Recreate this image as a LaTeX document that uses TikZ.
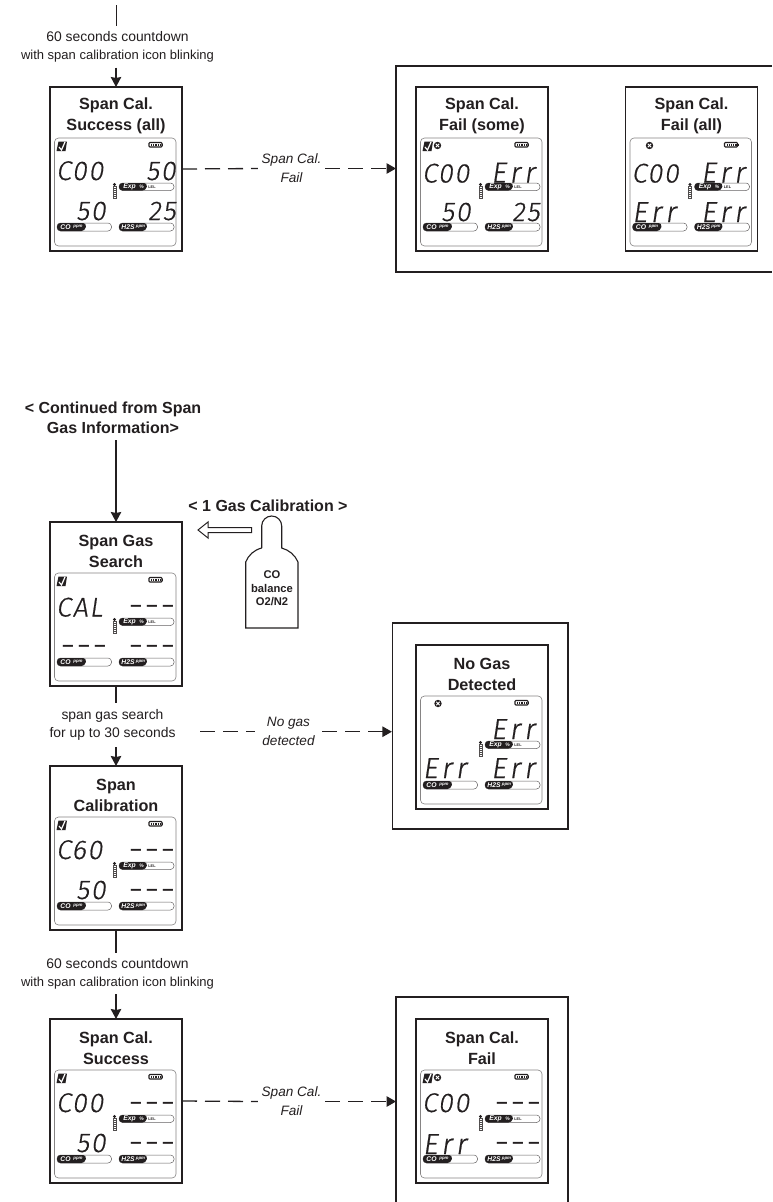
\documentclass[tikz,border=0pt]{standalone}
\usepackage{fontspec}
\usetikzlibrary{arrows.meta}
\setmainfont{Liberation Sans}
\newfontfamily\lcdfont[FakeSlant=0.15,FakeBold=0.6,LetterSpace=6]{Fira Sans Light}
\newfontfamily\errfont[FakeSlant=0.15,FakeBold=0.6,LetterSpace=13]{Fira Sans Light}
\newfontfamily\dashfont[FakeStretch=2.5,LetterSpace=17]{Liberation Sans}
\definecolor{ink}{HTML}{231F20}
\newcommand{\longnote}{\fontsize{13.9}{19}\selectfont 60 seconds countdown\hspace{11pt}\\\fontsize{13}{19}\selectfont with span calibration icon blinking}
\tikzset{
  x=1pt,y=-1pt,
  cardbox/.style={draw=ink,line width=1.3pt,fill=white,minimum width=132pt,minimum height=164pt,anchor=north west,inner sep=0pt,outer sep=0pt},
  titletext/.style={font=\fontsize{16.2}{21}\selectfont\bfseries,text=ink,align=center,inner sep=0pt},
  flow/.style={draw=ink,line width=1.3pt},
  arrowed/.style={flow,-{Stealth[length=10pt,width=10.5pt,inset=1pt]}},
  dashline/.style={draw=ink,line width=1.3pt,dash pattern=on 15pt off 8pt},
  dasharrow/.style={dashline,-{Triangle[length=9.5pt,width=10.5pt]}},
  note/.style={font=\fontsize{13.9}{18}\selectfont,text=ink,align=center,inner sep=0pt},
  failnote/.style={font=\fontsize{13.6}{19}\selectfont\itshape,text=ink,align=center,inner sep=0pt,minimum width=67pt},
  headnote/.style={font=\fontsize{16}{20}\selectfont\bfseries,text=ink,align=center,inner sep=0pt},
  frame/.style={draw=ink,line width=1.3pt},
  lcdtext/.style={font=\fontsize{27}{27}\selectfont\lcdfont,text=ink,inner sep=0pt},
  errtext/.style={font=\fontsize{29}{29}\selectfont\errfont,text=ink,inner sep=0pt},
  dashtext/.style={font=\fontsize{16}{16}\selectfont\dashfont\bfseries,text=ink,inner sep=0pt},
  pilltext/.style={font=\fontsize{6.8}{7}\selectfont\bfseries\itshape,text=white,inner sep=0pt},
  ppmtext/.style={font=\fontsize{4.4}{5}\selectfont\bfseries\itshape,text=white,inner sep=0pt},
  lel/.style={font=\fontsize{3.8}{4}\selectfont\bfseries,text=ink,inner sep=0pt},
}
\newcommand{\pill}[6]{% name x1 xblack x2 y1 y2
  \draw[ink!70,line width=.5pt,fill=white,rounded corners=3.5pt] (#2,#5) rectangle (#4,#6);
  \fill[ink,rounded corners=3.5pt] (#2,#5) -- (#3+1.5,#5) -- (#3,#6) -- (#2,#6) -- cycle;
}
\newcommand{\devbody}[2]{% name, title
  \node[cardbox] (#1) at (0,0) {};
  \node[titletext] (#1-title) at (66,29) {#2};
  \draw[ink!55,line width=.6pt,rounded corners=4pt] (4.5,51) rectangle (126,159);
  % battery
  \draw[ink,line width=1.1pt,rounded corners=.8pt] (99,55.5) rectangle (112,60);
  \fill[ink] (112,56.5) rectangle (113.2,59);
  \foreach \q in {101,103.2,105.4,107.6,109.8}{\fill[ink] (\q,56.5) rectangle (\q+1.2,59);}
  % thermometer
  \fill[ink!80] (62.5,99) rectangle (66.5,112);
  \fill[ink] (64.5,97.5) circle (1.6);
  \foreach \q in {100.5,102.5,...,111}{\draw[white,line width=.3pt] (63.5,\q) -- (65.5,\q);}
  % bars
  \pill{}{69}{96}{124}{96}{103.5}
  \node[pilltext] (#1-exp) at (79.5,99.7) {Exp};
  \node[pilltext,font=\fontsize{5}{5}\selectfont\bfseries\itshape] (#1-pct) at (91.5,100) {\%};
  \node[lel] (#1-lel) at (102,99.8) {LEL};
  \pill{}{7}{35}{61.5}{136}{144}
  \node[pilltext] (#1-co) at (15.5,140) {CO};
  \node[ppmtext] (#1-ppma) at (28,140.2) {ppm};
  \pill{}{69}{96}{124}{136}{144}
  \node[pilltext] (#1-hs) at (78,140) {H2S};
  \node[ppmtext] (#1-ppmb) at (90.5,140.2) {ppm};
}
\newcommand{\chkicon}{%
  \fill[ink] (8.5,54.5) -- (17,54.5) -- (15.5,64) -- (6.5,64) -- cycle;
  \draw[white,line width=1.2pt] (9,60) -- (11.5,63) -- (15,55);
}
\newcommand{\xicon}[1]{%
  \fill[ink] (#1,58.5) circle (3.7);
  \draw[white,line width=.9pt] (#1-1.7,56.8) -- (#1+1.7,60.2) (#1-1.7,60.2) -- (#1+1.7,56.8);
}
\newcommand{\dleft}[5][lcdtext]{\node[#1,anchor=base west] (#2) at (#3,#4) {#5};}
\newcommand{\dright}[5][lcdtext]{\node[#1,anchor=base east] (#2) at (#3,#4) {#5};}
\newcommand{\dashes}[3]{\node[dashtext,anchor=base east] (#1) at (#2+1,#3+4.5) {-{}-{}-};}
\begin{document}
\begin{tikzpicture}
\useasboundingbox (0,0) rectangle (772,1202);
\fill[white] (0,0) rectangle (772,1202);

% ---------- first block
\begin{scope}[shift={(50,87)}]
  \devbody{sa}{Span Cal.\\Success (all)}
  \chkicon
  \dleft{sa-a}{6}{93}{C00}
  \dright{sa-b}{126}{93}{50}
  \dright{sa-c}{56}{133}{50}
  \dright{sa-d}{126}{133}{25}
\end{scope}
\begin{scope}[shift={(416,87)}]
  \devbody{fs}{Span Cal.\\Fail (some)}
  \chkicon \xicon{21.5}
  \dleft{fs-a}{6}{95.5}{C00}
  \dright[errtext]{fs-b}{119}{95.5}{Err}
  \dright{fs-c}{55}{134}{50}
  \dright{fs-d}{124}{134}{25}
\end{scope}
\begin{scope}[shift={(625.5,87)}]
  \devbody{fa}{Span Cal.\\Fail (all)}
  \xicon{24}
  \dleft{fa-a}{6}{95.5}{C00}
  \dright[errtext]{fa-b}{119.5}{95.5}{Err}
  \dleft[errtext]{fa-c}{6.5}{135}{Err}
  \dright[errtext]{fa-d}{119.5}{135}{Err}
\end{scope}
\draw[frame] (772,66) -- (396,66) -- (396,272) -- (772,272);
\coordinate (frameA) at (396,168.5);
\coordinate (startA) at (116.5,5);
\node[note,minimum height=41pt] (noteA) at (117.5,47) {\longnote};
\draw[flow] (startA) -- (startA |- noteA.north);
\draw[arrowed] (sa.north |- noteA.south) -- (sa.north);
\node[failnote] (failA) at (291.5,168.5) {Span Cal.\\Fail};
\draw[dashline] (sa.east) -- (failA.west);
\draw[dasharrow] (failA.east) -- (frameA);

% ---------- 1 gas calibration
\node[headnote,minimum height=44pt] (cont) at (113,418) {< Continued from Span\\Gas Information>};
\begin{scope}[shift={(50,522)}]
  \devbody{sg}{Span Gas\\Search}
  \chkicon
  \dleft{sg-a}{6}{94.5}{CAL}
  \dashes{sg-b}{124}{84}
  \dashes{sg-c}{56}{124}
  \dashes{sg-d}{124}{124}
\end{scope}
\draw[arrowed] (sg.north |- cont.south) -- (sg.north);
\node[headnote] (onegas) at (268,506) {< 1 Gas Calibration >};
\draw[ink,line width=1pt,fill=white] (251.7,527.7) -- (208,527.7) -- (208,522) -- (198,530) -- (208,538) -- (208,532.7) -- (251.7,532.7) -- cycle;
\draw[ink,line width=1.1pt] (261.7,548) -- (261.7,526) arc[start angle=180,end angle=360,radius=10] -- (281.7,548) .. controls (289,550) and (295,555) .. (298,562) -- (298,628) -- (245.7,628) -- (245.7,562) .. controls (248.5,555) and (254,550) .. (261.7,548);
\node[font=\fontsize{11.2}{13.4}\selectfont\bfseries,text=ink,align=center,inner sep=0pt] (gastext) at (272,588.5) {CO\\balance\\O2/N2};

\begin{scope}[shift={(416,645)}]
  \devbody{ng}{No Gas\\Detected}
  \xicon{22}
  \dright[errtext]{ng-b}{119}{94}{Err}
  \dleft[errtext]{ng-c}{6.5}{133}{Err}
  \dright[errtext]{ng-d}{119}{133}{Err}
\end{scope}
\node[frame,minimum width=175.5pt,minimum height=206pt,inner sep=0pt] (frameN) at (480.25,726) {};
\node[note,minimum height=44pt] (noteB) at (112.5,725) {span gas search\\for up to 30 seconds};
\begin{scope}[shift={(50,766)}]
  \devbody{sc}{Span\\Calibration}
  \chkicon
  \dleft{sc-a}{6}{93}{C60}
  \dashes{sc-b}{124}{84}
  \dright{sc-c}{56}{133}{50}
  \dashes{sc-d}{124}{124}
\end{scope}
\draw[flow] (sg.south) -- (sg.south |- noteB.north);
\draw[arrowed] (sc.north |- noteB.south) -- (sc.north);
\coordinate (startN) at (200,731.7);
\node[failnote] (failN) at (288.5,731) {No gas\\detected};
\draw[dashline] (startN) -- (failN.west |- startN);
\draw[dasharrow] (failN.east |- startN) -- (frameN.west |- startN);

% ---------- last block
\begin{scope}[shift={(50,1019)}]
  \devbody{ss}{Span Cal.\\Success}
  \chkicon
  \dleft{ss-a}{6}{93}{C00}
  \dashes{ss-b}{124}{84}
  \dright{ss-c}{56}{133}{50}
  \dashes{ss-d}{124}{124}
\end{scope}
\begin{scope}[shift={(416,1019)}]
  \devbody{sf}{Span Cal.\\Fail}
  \chkicon \xicon{21.5}
  \dleft{sf-a}{6}{93}{C00}
  \dashes{sf-b}{124}{84}
  \dleft[errtext]{sf-c}{6.5}{135}{Err}
  \dashes{sf-d}{124}{124}
\end{scope}
\draw[frame] (396,1202) -- (396,997) -- (568,997) -- (568,1202);
\coordinate (frameS) at (396,1101.5);
\node[note,minimum height=41pt] (noteC) at (117.5,973.5) {\longnote};
\draw[flow] (sc.south) -- (sc.south |- noteC.north);
\draw[arrowed] (ss.north |- noteC.south) -- (ss.north);
\node[failnote] (failS) at (291.5,1101.5) {Span Cal.\\Fail};
\draw[dashline] (ss.east) -- (failS.west);
\draw[dasharrow] (failS.east) -- (frameS);
\end{tikzpicture}
\end{document}
